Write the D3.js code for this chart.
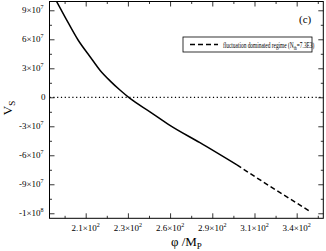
<!DOCTYPE html>
<html>
<head>
<meta charset="utf-8">
<script src="https://cdn.jsdelivr.net/npm/d3@7"></script>
<style>
  body { margin: 0; background: #fff; }
  text { font-family: "Liberation Serif", "DejaVu Serif", serif; fill: #000; }
</style>
</head>
<body>
<svg id="chart" width="326" height="251"></svg>
<script>
// solid part of the curve (phi in M_P, V_S)
const solidPhi = [190.1, 195.3, 203.4, 210.7, 216.8, 223.0, 229.1, 235.3, 247.6, 259.9, 278.4, 301.2];
const solidV = [9.9e7, 8.3e7, 5.9e7, 4.2e7, 2.8e7, 1.7e7, 0.75e7, -0.12e7, -1.5e7, -2.9e7, -4.7e7, -7.0e7];
// fluctuation dominated regime (dashed)
const dashPhi = [301.2, 321.5, 346.2];
const dashV = [-7.0e7, -9.2e7, -11.8e7];

const xTicks = [208, 234, 260, 286, 312, 338];
const xMinor = [195, 221, 247, 273, 299, 325, 351];
const yTicks = [-12e7, -9e7, -6e7, -3e7, 0, 3e7, 6e7, 9e7];
const yMinor = [-10.5e7, -7.5e7, -4.5e7, -1.5e7, 1.5e7, 4.5e7, 7.5e7];

const legendLabel = "fluctuation dominated regime (N";
const legendSub = "th";
const legendTail = "=7.3E3)";

const margin = { left: 49.5, right: 2.7, top: 1.5, bottom: 32.7 };
const W = 326, H = 251;
const iw = W - margin.left - margin.right;
const ih = H - margin.top - margin.bottom;

const svg = d3.select("#chart");
const g = svg.append("g").attr("transform", `translate(${margin.left},${margin.top})`);

const x = d3.scaleLinear().domain([185.7, 354.4]).range([0, iw]);
const y = d3.scaleLinear().domain([-1.252e8, 0.991e8]).range([ih, 0]);

// clip so the curve stops at the frame
svg.append("defs").append("clipPath").attr("id", "clip")
  .append("rect").attr("width", iw).attr("height", ih);

// zero line
g.append("line")
  .attr("x1", 0).attr("x2", iw)
  .attr("y1", y(0)).attr("y2", y(0))
  .attr("stroke", "#000").attr("stroke-width", 1.2)
  .attr("stroke-dasharray", "1.2,2.6");

const line = d3.line().x(d => x(d[0])).y(d => y(d[1])).curve(d3.curveMonotoneX);

g.append("path")
  .datum(solidPhi.map((p, i) => [p, solidV[i]]))
  .attr("clip-path", "url(#clip)")
  .attr("fill", "none").attr("stroke", "#000").attr("stroke-width", 1.5)
  .attr("d", line);

g.append("path")
  .datum(dashPhi.map((p, i) => [p, dashV[i]]))
  .attr("fill", "none").attr("stroke", "#000").attr("stroke-width", 1.5)
  .attr("stroke-dasharray", "5,3")
  .attr("d", line);

// ticks on all four sides, pointing inwards
function ticks(axis, vals, size, transform) {
  g.append("g").attr("transform", transform || null)
    .call(axis.tickValues(vals).tickSize(size).tickFormat(""))
    .call(a => a.select(".domain").remove())
    .call(a => a.selectAll("line").attr("stroke", "#000").attr("stroke-width", 0.8));
}
ticks(d3.axisBottom(x), xTicks, -5, `translate(0,${ih})`);
ticks(d3.axisBottom(x), xMinor, -2.5, `translate(0,${ih})`);
ticks(d3.axisTop(x), xTicks, -5);
ticks(d3.axisTop(x), xMinor, -2.5);
ticks(d3.axisLeft(y), yTicks, -5);
ticks(d3.axisLeft(y), yMinor, -2.5);
ticks(d3.axisRight(y), yTicks, -5, `translate(${iw},0)`);
ticks(d3.axisRight(y), yMinor, -2.5, `translate(${iw},0)`);

g.append("rect").attr("width", iw).attr("height", ih)
  .attr("fill", "none").attr("stroke", "#000").attr("stroke-width", 1);

// mantissa x 10^exp labels like xmgrace
function sci(t, v, digits) {
  if (v === 0) { t.text("0"); return; }
  const e = Math.floor(Math.log10(Math.abs(v)));
  const m = (v / Math.pow(10, e)).toFixed(digits);
  t.append("tspan").text(m + "\u00d710");
  t.append("tspan").attr("dy", -4).attr("font-size", 6).text(e);
}

xTicks.forEach(v => {
  g.append("text").attr("x", x(v)).attr("y", ih + 13)
    .attr("text-anchor", "middle").attr("font-size", 9)
    .call(t => sci(t, v, 1));
});
yTicks.forEach(v => {
  g.append("text").attr("x", v === 0 ? -4 : -6).attr("y", y(v) + 3)
    .attr("text-anchor", "end").attr("font-size", 9)
    .call(t => sci(t, v, 0));
});

// axis titles
svg.append("text")
  .attr("transform", "translate(12,108) rotate(-90)")
  .attr("text-anchor", "middle").attr("font-size", 13.5)
  .call(t => {
    t.append("tspan").text("V");
    t.append("tspan").attr("dy", 3).attr("font-size", 9).text("S");
  });

svg.append("text")
  .attr("x", margin.left + iw / 2).attr("y", 246)
  .attr("text-anchor", "middle").attr("font-size", 13)
  .call(t => {
    t.append("tspan").text("\u03c6 /M");
    t.append("tspan").attr("dy", 3).attr("font-size", 9).text("P");
  });

// panel label
svg.append("text").attr("x", 299).attr("y", 23).attr("font-size", 11).text("(c)");

// legend
const lg = svg.append("g");
lg.append("rect").attr("x", 183).attr("y", 37).attr("width", 129).attr("height", 15)
  .attr("fill", "#fff").attr("stroke", "#000").attr("stroke-width", 0.8);
lg.append("line").attr("x1", 190).attr("x2", 218).attr("y1", 44.5).attr("y2", 44.5)
  .attr("stroke", "#000").attr("stroke-width", 1.5).attr("stroke-dasharray", "5,3");
// the label is squeezed horizontally to fit the box as in the reference
lg.append("text").attr("transform", "translate(223,47.5) scale(0.72,1)")
  .attr("font-size", 7.5)
  .call(t => {
    t.append("tspan").text(legendLabel);
    t.append("tspan").attr("dy", 2).attr("font-size", 5.5).text(legendSub);
    t.append("tspan").attr("dy", -2).text(legendTail);
  });
</script>
</body>
</html>
